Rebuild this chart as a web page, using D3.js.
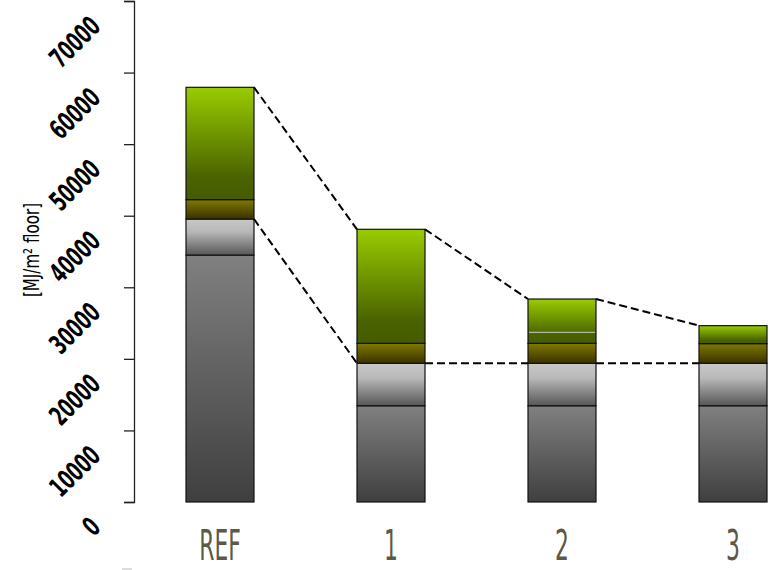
<!DOCTYPE html>
<html lang="en">
<head>
<meta charset="utf-8">
<title>Energy per floor area</title>
<style>
  body { margin: 0; background: #fff; }
  text { font-family: "DejaVu Sans", sans-serif; }
</style>
<script src="https://cdn.jsdelivr.net/npm/d3@7"></script>
</head>
<body>
<svg width="777" height="570"></svg>
<script>
// values, in MJ/m2 floor
const categories = ["REF", "1", "2", "3"];
const darkGray  = [34500, 13450, 13450, 13450];
const lightGray = [5030, 5930, 5930, 5930];
const olive     = [2720, 2790, 2790, 2750];
const green     = [15690, 15930, 6190, 2510];
const greenSplit = [null, null, 23710, null];   // faint line inside bar 2
const yTicks = [0, 10000, 20000, 30000, 40000, 50000, 60000, 70000];
const yTitle = "[MJ/m\u00B2 floor]";

const seriesNames = ["darkGray", "lightGray", "olive", "green"];
const seriesVals = [darkGray, lightGray, olive, green];

const svg = d3.select("svg");

const y = d3.scaleLinear().domain([0, 70000]).range([502, 1]);
const x = d3.scalePoint().domain(categories).range([220, 733]);
const barW = 68;

// gradients
const grads = {
  darkGray:  [[0, "#808080"], [1, "#3f3f3f"]],
  lightGray: [[0, "#c8c8c8"], [0.35, "#b8b8b8"], [1, "#575757"]],
  olive:     [[0, "#807b00"], [1, "#3a3000"]],
  green:     [[0, "#99cc00"], [0.8, "#4a6300"], [1, "#465c00"]]
};
const defs = svg.append("defs");
Object.entries(grads).forEach(([k, stops]) => {
  const g = defs.append("linearGradient").attr("id", "g-" + k)
    .attr("x1", 0).attr("y1", 0).attr("x2", 0).attr("y2", 1);
  stops.forEach(s => g.append("stop").attr("offset", s[0]).attr("stop-color", s[1]));
});

// stack
const rows = categories.map((c, i) => {
  const r = { cat: c };
  seriesNames.forEach((s, j) => r[s] = seriesVals[j][i]);
  return r;
});
const stacked = d3.stack().keys(seriesNames)(rows);

const layers = svg.append("g").selectAll("g")
  .data(stacked).join("g")
  .attr("fill", d => "url(#g-" + d.key + ")");

layers.selectAll("rect")
  .data(d => d)
  .join("rect")
  .attr("x", d => x(d.data.cat) - barW / 2)
  .attr("y", d => y(d[1]))
  .attr("width", barW)
  .attr("height", d => y(d[0]) - y(d[1]))
  .attr("stroke", "#111")
  .attr("stroke-width", 1.2);

// faint split line
svg.append("g").selectAll("line")
  .data(categories.map((c, i) => ({ c, v: greenSplit[i] })).filter(d => d.v != null))
  .join("line")
  .attr("x1", d => x(d.c) - barW / 2 + 1)
  .attr("x2", d => x(d.c) + barW / 2 - 1)
  .attr("y1", d => y(d.v)).attr("y2", d => y(d.v))
  .attr("stroke", "#c8d0b8").attr("stroke-width", 1);

// dashed connectors between bars
const totalTop = categories.map((c, i) => darkGray[i] + lightGray[i] + olive[i] + green[i]);
const grayTop = categories.map((c, i) => darkGray[i] + lightGray[i]);
[totalTop, grayTop].forEach(arr => {
  const segs = d3.pairs(categories.map((c, i) => ({ c, v: arr[i] })));
  svg.append("g").selectAll("line")
    .data(segs).join("line")
    .attr("x1", d => x(d[0].c) + barW / 2)
    .attr("y1", d => y(d[0].v))
    .attr("x2", d => x(d[1].c) - barW / 2)
    .attr("y2", d => y(d[1].v))
    .attr("stroke", "#000")
    .attr("stroke-width", 2)
    .attr("stroke-dasharray", "8,4");
});

// y axis
const axisX = 134;
const yAxis = svg.append("g").attr("transform", "translate(" + axisX + ",0)")
  .call(d3.axisLeft(y).tickValues(yTicks).tickSize(10).tickFormat(""));
yAxis.select(".domain").attr("stroke", "#222").attr("stroke-width", 1.3);
yAxis.selectAll(".tick line").attr("stroke", "#222").attr("stroke-width", 1.3);

// faint stray tick below the axis
svg.append("line").attr("x1", 122).attr("x2", 132)
  .attr("y1", 569).attr("y2", 569).attr("stroke", "#d0d0d0").attr("stroke-width", 1.5);

// rotated tick labels
svg.append("g").selectAll("text")
  .data(yTicks).join("text")
  .attr("transform", d => "translate(102," + (y(d) + 27) + ") rotate(-45) scale(0.62,1)")
  .attr("text-anchor", "end")
  .attr("font-size", 27)
  .attr("font-weight", "bold")
  .attr("fill", "#000")
  .text(d => d);

// y title
svg.append("text")
  .attr("transform", "translate(39,250) rotate(-90) scale(0.72,1)")
  .attr("text-anchor", "middle")
  .attr("font-size", 21)
  .attr("fill", "#000")
  .text(yTitle);

// category labels
svg.append("g").selectAll("text")
  .data(categories).join("text")
  .attr("transform", d => "translate(" + x(d) + ",560) scale(0.52,1)")
  .attr("text-anchor", "middle")
  .attr("font-size", 42)
  .attr("fill", "#5a5a46")
  .text(d => d);
</script>
</body>
</html>
